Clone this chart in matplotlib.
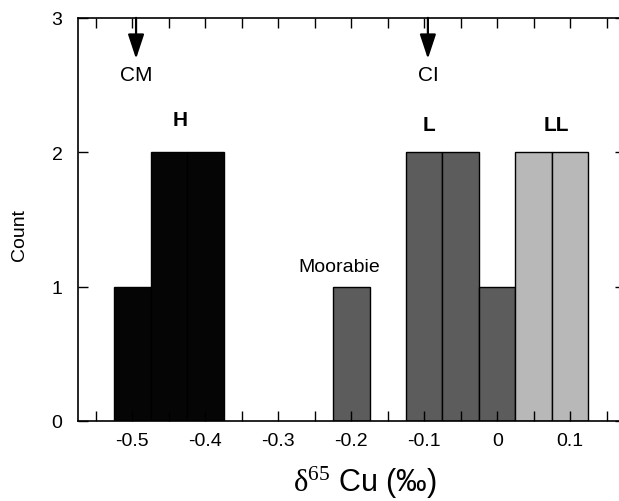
import matplotlib
matplotlib.use("Agg")
import matplotlib.pyplot as plt

plt.rcParams['font.family'] = ['Liberation Sans', 'DejaVu Sans']
plt.rcParams['axes.unicode_minus'] = False
plt.rcParams['mathtext.fontset'] = 'custom'
plt.rcParams['mathtext.rm'] = 'Liberation Serif'
plt.rcParams['mathtext.it'] = 'Liberation Serif'
plt.rcParams['mathtext.default'] = 'rm'

# Data (bin centers in per mil, counts)
h_bins = [-0.5, -0.45, -0.4]
h_counts = [1, 2, 2]
moorabie_bins = [-0.2]
moorabie_counts = [1]
l_bins = [-0.1, -0.05, 0.0]
l_counts = [2, 2, 1]
ll_bins = [0.05, 0.1]
ll_counts = [2, 2]
bin_width = 0.05

major_ticks = [-0.5, -0.4, -0.3, -0.2, -0.1, 0.0, 0.1]
major_labels = ['-0.5', '-0.4', '-0.3', '-0.2', '-0.1', '0', '0.1']
minor_ticks = [-0.55, -0.45, -0.35, -0.25, -0.15, -0.05, 0.05, 0.15]
y_ticks = [0, 1, 2, 3]

arrows = {'CM': -0.495, 'CI': -0.095}
group_labels = {'H': (-0.435, 2.24), 'L': (-0.094, 2.21), 'LL': (0.081, 2.21)}

fig = plt.figure(figsize=(6.19, 5.02), dpi=100)
ax = fig.add_axes([0.1255, 0.1594, 0.884, 0.803])

ax.bar(h_bins, h_counts, width=bin_width, color='#050505', edgecolor='black', linewidth=1.0)
ax.bar(moorabie_bins, moorabie_counts, width=bin_width, color='#5c5c5c', edgecolor='black', linewidth=1.0)
ax.bar(l_bins, l_counts, width=bin_width, color='#5c5c5c', edgecolor='black', linewidth=1.0)
ax.bar(ll_bins, ll_counts, width=bin_width, color='#b8b8b8', edgecolor='black', linewidth=1.0)

ax.set_xlim(-0.575, 0.175)
ax.set_ylim(0, 3)

ax.set_xticks(major_ticks)
ax.set_xticklabels(major_labels)
ax.set_xticks(minor_ticks, minor=True)
ax.set_yticks(y_ticks)
ax.set_yticklabels([str(v) for v in y_ticks])

ax.tick_params(axis='both', which='both', direction='in', top=True, right=True,
               length=7.5, width=1.0, labelsize=14)
ax.tick_params(axis='x', which='both', pad=8)
ax.tick_params(axis='y', which='both', pad=11)

for sp in ax.spines.values():
    sp.set_linewidth(1.2)

ax.set_ylabel('Count', fontsize=14)
ax.yaxis.set_label_coords(-0.09, 0.465)
ax.set_xlabel(r'$\delta^{65}$ Cu (‰)', fontsize=22)
ax.xaxis.set_label_coords(0.524, -0.105)

for name, xv in arrows.items():
    ax.annotate('', xy=(xv, 2.695), xytext=(xv, 3.0),
                arrowprops=dict(arrowstyle='-|>,head_length=1.0,head_width=0.33',
                                mutation_scale=15, lw=1.6, color='black',
                                shrinkA=0, shrinkB=0))
    ax.text(xv, 2.575, name, ha='center', va='center', fontsize=15)

for name, (xv, yv) in group_labels.items():
    ax.text(xv, yv, name, ha='center', va='center', fontsize=15, fontweight='bold')

ax.text(-0.216, 1.15, 'Moorabie', ha='center', va='center', fontsize=14)

fig.savefig('out.png', dpi=100)
